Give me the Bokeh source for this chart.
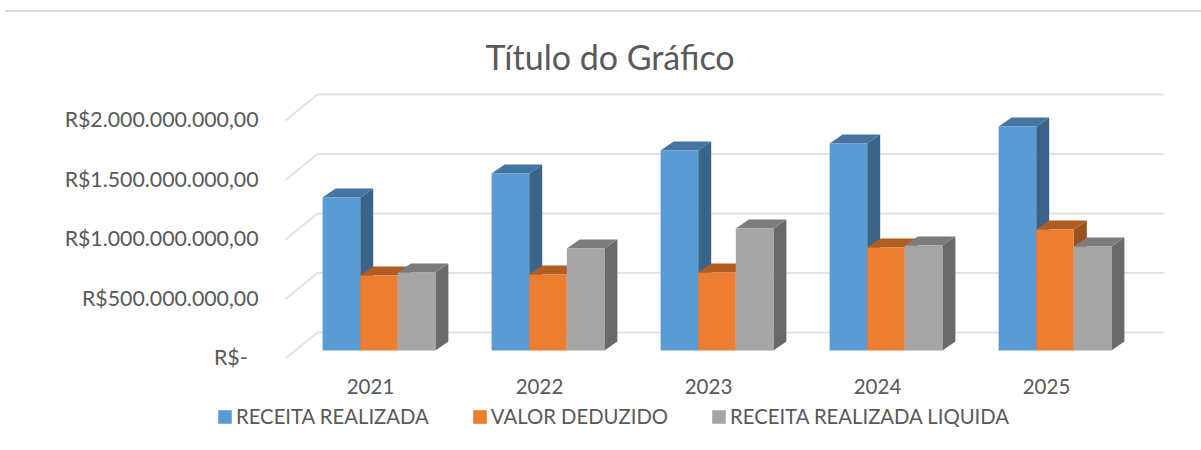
from bokeh.plotting import figure
from bokeh.embed import file_html
from bokeh.resources import INLINE
from bokeh.models import Range1d, LinearAxis, FixedTicker, Legend, LegendItem

years = [2021, 2022, 2023, 2024, 2025]
receita_realizada = [1.286e9, 1.487e9, 1.681e9, 1.739e9, 1.882e9]
valor_deduzido = [0.630e9, 0.639e9, 0.655e9, 0.866e9, 1.017e9]
receita_liquida = [0.655e9, 0.857e9, 1.025e9, 0.882e9, 0.874e9]
y_ticks = [0, 5e8, 1e9, 1.5e9, 2e9]
y_tick_labels = ["R$-\u00a0\u00a0", "R$500.000.000,00", "R$1.000.000.000,00",
                 "R$1.500.000.000,00", "R$2.000.000.000,00"]
series_names = ["RECEITA REALIZADA", "VALOR DEDUZIDO", "RECEITA REALIZADA LIQUIDA"]
title_text = "Título do Gráfico"

TEXT = "#595959"
FONT = "Lato"
FACE = ["#5B9BD5", "#ED7D31", "#A5A5A5"]
TOP = ["#44749F", "#B15D22", "#7C7C7C"]
SIDE = ["#3A6488", "#9C5120", "#696969"]

PX_X = 169.0            # pixels per year
PX_Y = 119.0 / 1e9      # pixels per unit of value
ORG_X, ORG_Y = 5, 12    # where the figure sits in the page
W, H = 1196, 438
FL, FR, FT, FB = 5, 1201, 80, 450   # frame edges in page pixels

def xv(page_px):
    return 2021 + (page_px - 378.5) / PX_X

def yv(page_px):
    return (350 - page_px) / PX_Y

p = figure(width=W, height=H, output_backend="svg", toolbar_location=None,
           x_axis_location=None, y_axis_location=None,
           x_range=Range1d(xv(FL), xv(FR)), y_range=Range1d(yv(FB), yv(FT)),
           min_border_left=0, min_border_right=0,
           min_border_top=FT - ORG_Y, min_border_bottom=0,
           outline_line_color=None, background_fill_color="white",
           border_fill_color="white",
           styles={"margin-top": "10px", "margin-left": "5px",
                   "border-top": "2px solid #D9D9D9"})
p.grid.visible = False

# back wall and floor-side gridlines
DFY = 8 / PX_Y
DBY = 18 / PX_Y
for t in y_ticks:
    p.line([xv(285), xv(317), xv(1163)],
           [t - DFY, t + DBY, t + DBY], line_color="#E3E3E3", line_width=2)

# 3D bars
DX, DY = 13 / PX_X, 9 / PX_Y
BW = 37.6 / PX_X
series = [receita_realizada, valor_deduzido, receita_liquida]
legend_items = []
for s, vals in enumerate(series):
    left = [y + (s - 1.5) * BW for y in years]
    right = [x + BW for x in left]
    p.patches([[r, r + DX, r + DX, r] for r, v in zip(right, vals)],
              [[0, DY, v + DY, v] for v in vals],
              fill_color=SIDE[s], line_color=None)
    p.patches([[l, l + DX, r + DX, r] for l, r in zip(left, right)],
              [[v, v + DY, v + DY, v] for v in vals],
              fill_color=TOP[s], line_color=None)
    face = p.quad(left=left, right=right, bottom=[0] * 5, top=vals,
                  fill_color=FACE[s], line_color=None)
    legend_items.append(LegendItem(label=series_names[s], renderers=[face]))

# axes pinned inside the frame: labels on the front plane of the floor
p.extra_y_ranges = {"front": Range1d((356.5 - FB) / PX_Y, (356.5 - FT) / PX_Y)}
p.extra_x_ranges = {"front": Range1d(xv(FL) + 8.5 / PX_X, xv(FR) + 8.5 / PX_X)}

yax = LinearAxis(y_range_name="front", ticker=FixedTicker(ticks=y_ticks),
                 major_label_overrides=dict(zip(y_ticks, y_tick_labels)),
                 fixed_location=xv(262))
xax = LinearAxis(x_range_name="front", ticker=FixedTicker(ticks=years),
                 major_label_overrides={y: str(y) for y in years},
                 fixed_location=yv(374.5))
for ax in (xax, yax):
    ax.axis_line_color = None
    ax.major_tick_line_color = None
    ax.minor_tick_line_color = None
    ax.major_tick_in = 0
    ax.major_tick_out = 0
    ax.major_label_text_color = TEXT
    ax.major_label_text_font = FONT
    ax.major_label_standoff = 4
xax.major_label_text_font_size = "20.5px"
yax.major_label_text_font_size = "21.3px"
p.add_layout(yax, "left")
p.add_layout(xax, "below")

legend = Legend(items=legend_items, orientation="horizontal",
                location=(211, FB - 428),
                glyph_width=17, glyph_height=17, label_standoff=3, spacing=42,
                padding=0, margin=0, border_line_color=None,
                background_fill_color=None, label_text_color=TEXT,
                label_text_font=FONT, label_text_font_size="20.3px")
p.add_layout(legend, "center")

p.title.text = title_text
p.title.align = "left"
p.title.offset = 485 - FL
p.title.text_font = FONT
p.title.text_font_size = "34px"
p.title.text_font_style = "normal"
p.title.text_color = TEXT
p.title.standoff = 8

open("out.html", "w").write(file_html(p, INLINE))
